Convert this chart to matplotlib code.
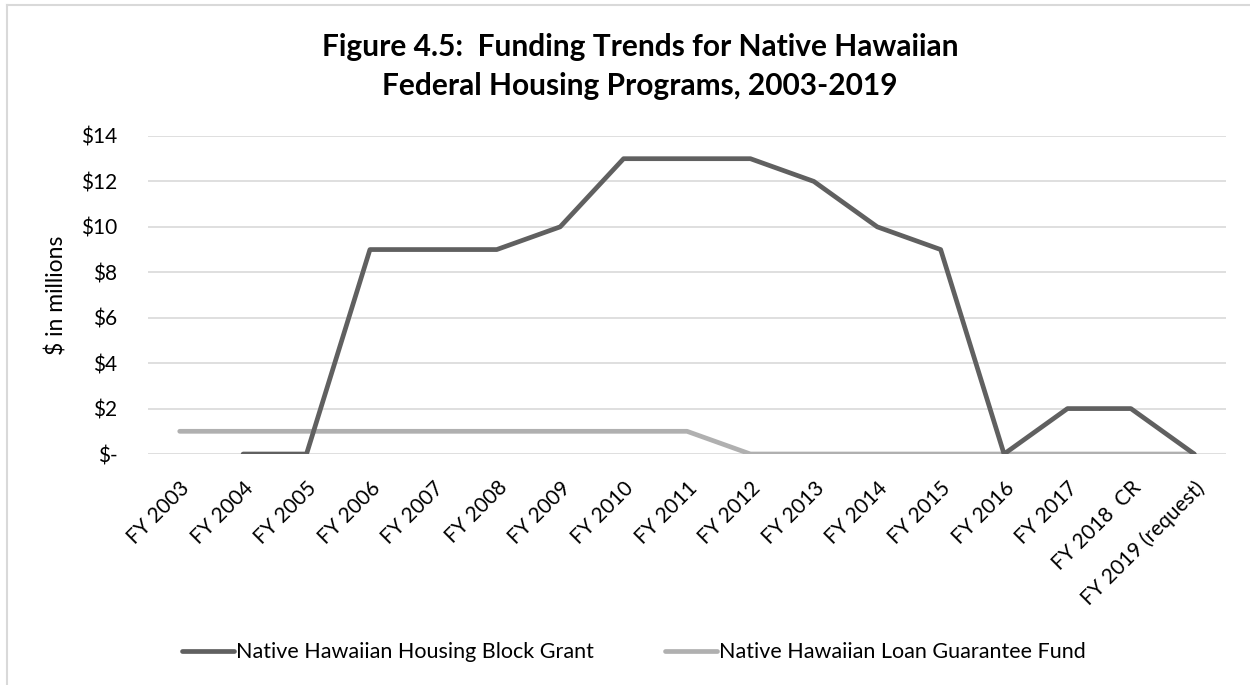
import matplotlib
matplotlib.use("Agg")
import matplotlib.pyplot as plt
from matplotlib.lines import Line2D

plt.rcParams['font.family'] = ['Lato', 'DejaVu Sans']

years = ['FY 2003', 'FY 2004', 'FY 2005', 'FY 2006', 'FY 2007', 'FY 2008',
         'FY 2009', 'FY 2010', 'FY 2011', 'FY 2012', 'FY 2013', 'FY 2014',
         'FY 2015', 'FY 2016', 'FY 2017', 'FY 2018  CR', 'FY 2019 (request)']
# block grant has no value for FY 2003
block_grant = [None, 0, 0, 9, 9, 9, 10, 13, 13, 13, 12, 10, 9, 0, 2, 2, 0]
loan_fund = [1, 1, 1, 1, 1, 1, 1, 1, 1, 0, 0, 0, 0, 0, 0, 0, 0]
yticks = [0, 2, 4, 6, 8, 10, 12, 14]
ylabels = ['$-', '$2', '$4', '$6', '$8', '$10', '$12', '$14']

dark = '#606060'
light = '#b0b0b0'
grid = '#d9d9d9'

fig = plt.figure(figsize=(12.5, 6.85), dpi=100)
ax = fig.add_axes([0.1184, 0.3372, 0.8624, 0.4643])

x = list(range(len(years)))
bg_x = [i for i, v in zip(x, block_grant) if v is not None]
bg_y = [v for v in block_grant if v is not None]
ax.plot(x, loan_fund, color=light, lw=3.4, solid_capstyle='round',
        solid_joinstyle='round', zorder=3)
ax.plot(bg_x, bg_y, color=dark, lw=3.4, solid_capstyle='round',
        solid_joinstyle='round', zorder=4)

ax.set_xlim(-0.5, len(years) - 0.5)
ax.set_ylim(0, 14)
ax.set_yticks(yticks)
ax.set_yticklabels(ylabels)
ax.set_xticks(x)
ax.set_xticklabels(years, rotation=45, ha='right', rotation_mode='anchor')
ax.tick_params(axis='both', length=0, labelsize=15, colors='black')
ax.tick_params(axis='y', pad=22)
ax.tick_params(axis='x', pad=17)
ax.grid(axis='y', color=grid, lw=1.2, zorder=0)
ax.set_axisbelow(True)
for s in ax.spines.values():
    s.set_visible(False)
ax.set_ylabel('$ in millions', fontsize=16.5, labelpad=10)

fig.text(0.512, 0.903, 'Figure 4.5:  Funding Trends for Native Hawaiian\nFederal Housing Programs, 2003-2019',
         ha='center', va='center', fontsize=21.5, fontweight='bold',
         linespacing=1.5)

handles = [Line2D([], [], color=dark, lw=3.4, solid_capstyle='round'),
           Line2D([], [], color=light, lw=3.4, solid_capstyle='round')]
fig.legend(handles, ['Native Hawaiian Housing Block Grant',
                     'Native Hawaiian Loan Guarantee Fund'],
           loc='center', bbox_to_anchor=(0.507, 0.048), ncol=2, frameon=False,
           fontsize=15.5, handlelength=2.4, handletextpad=0.1, columnspacing=3.3)

# chart border (only left and top edges visible in the crop)
fig.add_artist(Line2D([0.0056, 0.0056], [0.0, 0.9927], color=grid, lw=1.5,
                      transform=fig.transFigure))
fig.add_artist(Line2D([0.0056, 1.0], [0.9927, 0.9927], color=grid, lw=1.5,
                      transform=fig.transFigure))

fig.savefig('out.png', dpi=100)
